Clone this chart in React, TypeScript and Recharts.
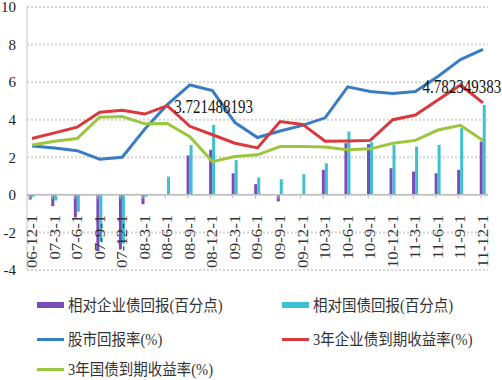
import React from 'react';
import { ComposedChart, Bar, Line, XAxis, YAxis, CartesianGrid, ReferenceLine, LabelList } from 'recharts';

const categories = ['06-12-1','07-3-1','07-6-1','07-9-1','07-12-1','08-3-1','08-6-1','08-9-1','08-12-1','09-3-1','09-6-1','09-9-1','09-12-1','10-3-1','10-6-1','10-9-1','10-12-1','11-3-1','11-6-1','11-9-1','11-12-1'];
const relCorp = [-0.25,-0.6,-1.2,-3.0,-2.9,-0.5,0,2.1,2.4,1.15,0.57,-0.35,0,1.33,2.75,2.7,1.42,1.24,1.15,1.33,2.84];
const relGov = [-0.1,-0.3,-0.9,-2.5,-2.6,-0.1,0.97,2.65,3.721488193,1.85,0.92,0.83,1.1,1.68,3.37,2.8,2.66,2.57,2.66,3.55,4.782349383];
const stockReturn = [2.6,2.5,2.35,1.9,2.0,3.5,4.8,5.85,5.55,3.85,3.05,3.4,3.7,4.1,5.75,5.5,5.4,5.5,6.3,7.2,7.75];
const corpYield = [3.0,3.3,3.6,4.4,4.5,4.3,4.75,3.65,3.2,2.75,2.5,3.9,3.75,2.85,2.87,2.9,4.0,4.25,5.05,5.85,4.9];
const govYield = [2.65,2.85,3.0,4.13,4.17,3.78,3.8,3.1,1.77,2.04,2.13,2.57,2.57,2.55,2.4,2.45,2.75,2.9,3.45,3.7,2.9];
const yTicks = [-4,-2,0,2,4,6,8,10];
const labelledBars = [8, 20];

const legendItems = [
  { name: '相对企业债回报(百分点)', color: '#7b4bb9', kind: 'bar', col: 0, row: 0 },
  { name: '相对国债回报(百分点)', color: '#3ec0d3', kind: 'bar', col: 1, row: 0 },
  { name: '股市回报率(%)', color: '#3a7cc3', kind: 'line', col: 0, row: 1 },
  { name: '3年企业债到期收益率(%)', color: '#d9383c', kind: 'line', col: 1, row: 1 },
  { name: '3年国债到期收益率(%)', color: '#9dc63f', kind: 'line', col: 0, row: 2 },
];

const data = categories.map((c, i) => ({
  i,
  cat: c,
  zero: 0,
  corp: relCorp[i],
  gov: relGov[i],
  stock: stockReturn[i],
  corpYield: corpYield[i],
  govYield: govYield[i],
}));

const SERIF = '"Liberation Serif", "Times New Roman", serif';

const CatLabel = (p: any) => {
  const { x, y, value } = p;
  if (x == null || y == null) return null;
  return (
    <g>
      <line x1={x - 2} y1={y} x2={x - 2} y2={y + 4} stroke="#bdbdbd" strokeWidth={1} />
      <text
        transform={`translate(${x},${y + 20}) rotate(-90) scale(1.2,1)`}
        textAnchor="end"
        dominantBaseline="central"
        fontFamily={SERIF}
        fontSize={14}
        fill="#333"
      >
        {value}
      </text>
    </g>
  );
};

const BarValueLabel = (p: any) => {
  const { x, y, width, value, index } = p;
  if (!labelledBars.includes(index)) return null;
  const cx = x + width / 2;
  const last = index === categories.length - 1;
  return (
    <text
      transform={`translate(${last ? cx + 17 : cx},${y - 12}) scale(1,1.2)`}
      textAnchor={last ? 'end' : 'middle'}
      fontFamily={SERIF}
      fontSize={15}
      fill="#111"
    >
      {String(value)}
    </text>
  );
};

export default function App() {
  const rowY = [305, 339, 369];
  const colX = [37, 282];
  return (
    <div style={{ position: 'absolute', left: 0, top: 0, width: 502, height: 380, background: '#fff', overflow: 'hidden' }}>
      <ComposedChart
        width={502}
        height={380}
        data={data}
        margin={{ top: 7, right: 14, left: 0, bottom: 109 }}
        barSize={3}
        barGap={0}
      >
        <CartesianGrid vertical={false} stroke="#d4d4d4" strokeDasharray="2 2" strokeWidth={2} />
        <XAxis
          dataKey="i"
          type="number"
          domain={[0, categories.length - 1]}
          ticks={categories.map((_, i) => i)}
          padding={{ left: 5, right: 5 }}
          height={1}
          axisLine={false}
          tickLine={false}
          tick={false}
        />
        <YAxis
          type="number"
          domain={[-4, 10]}
          ticks={yTicks}
          width={27}
          tickLine={false}
          tickMargin={5}
          axisLine={{ stroke: '#c8c8c8' }}
          tick={{ fill: '#222', fontSize: 15, fontFamily: SERIF }}
          interval={0}
        />
        <ReferenceLine y={0} stroke="#bdbdbd" strokeWidth={1.5} />
        <Bar dataKey="corp" fill="#7b4bb9" isAnimationActive={false} />
        <Bar dataKey="gov" fill="#3ec0d3" isAnimationActive={false}>
          <LabelList dataKey="gov" content={BarValueLabel} />
        </Bar>
        <Line dataKey="stock" stroke="#3a7cc3" strokeWidth={3} dot={false} activeDot={false} isAnimationActive={false} />
        <Line dataKey="corpYield" stroke="#d9383c" strokeWidth={3} dot={false} activeDot={false} isAnimationActive={false} />
        <Line dataKey="govYield" stroke="#9dc63f" strokeWidth={3} dot={false} activeDot={false} isAnimationActive={false} />
        <Line dataKey="zero" stroke="none" dot={false} activeDot={false} isAnimationActive={false} legendType="none">
          <LabelList dataKey="cat" content={CatLabel} />
        </Line>
      </ComposedChart>
      {legendItems.map((it) => (
        <div
          key={it.name}
          style={{
            position: 'absolute',
            left: colX[it.col],
            top: rowY[it.row] - 11,
            height: 22,
            display: 'flex',
            alignItems: 'center',
            whiteSpace: 'nowrap',
          }}
        >
          <div style={{ width: 27, height: it.kind === 'bar' ? 6 : 3, background: it.color, marginRight: 4 }} />
          <span
            style={{
              fontFamily: '"Liberation Serif", "Noto Sans CJK SC", serif',
              fontSize: 14.5,
              lineHeight: '18px',
              color: '#333',
              display: 'inline-block',
              transform: 'scaleY(1.1)',
            }}
          >
            {it.name}
          </span>
        </div>
      ))}
    </div>
  );
}
